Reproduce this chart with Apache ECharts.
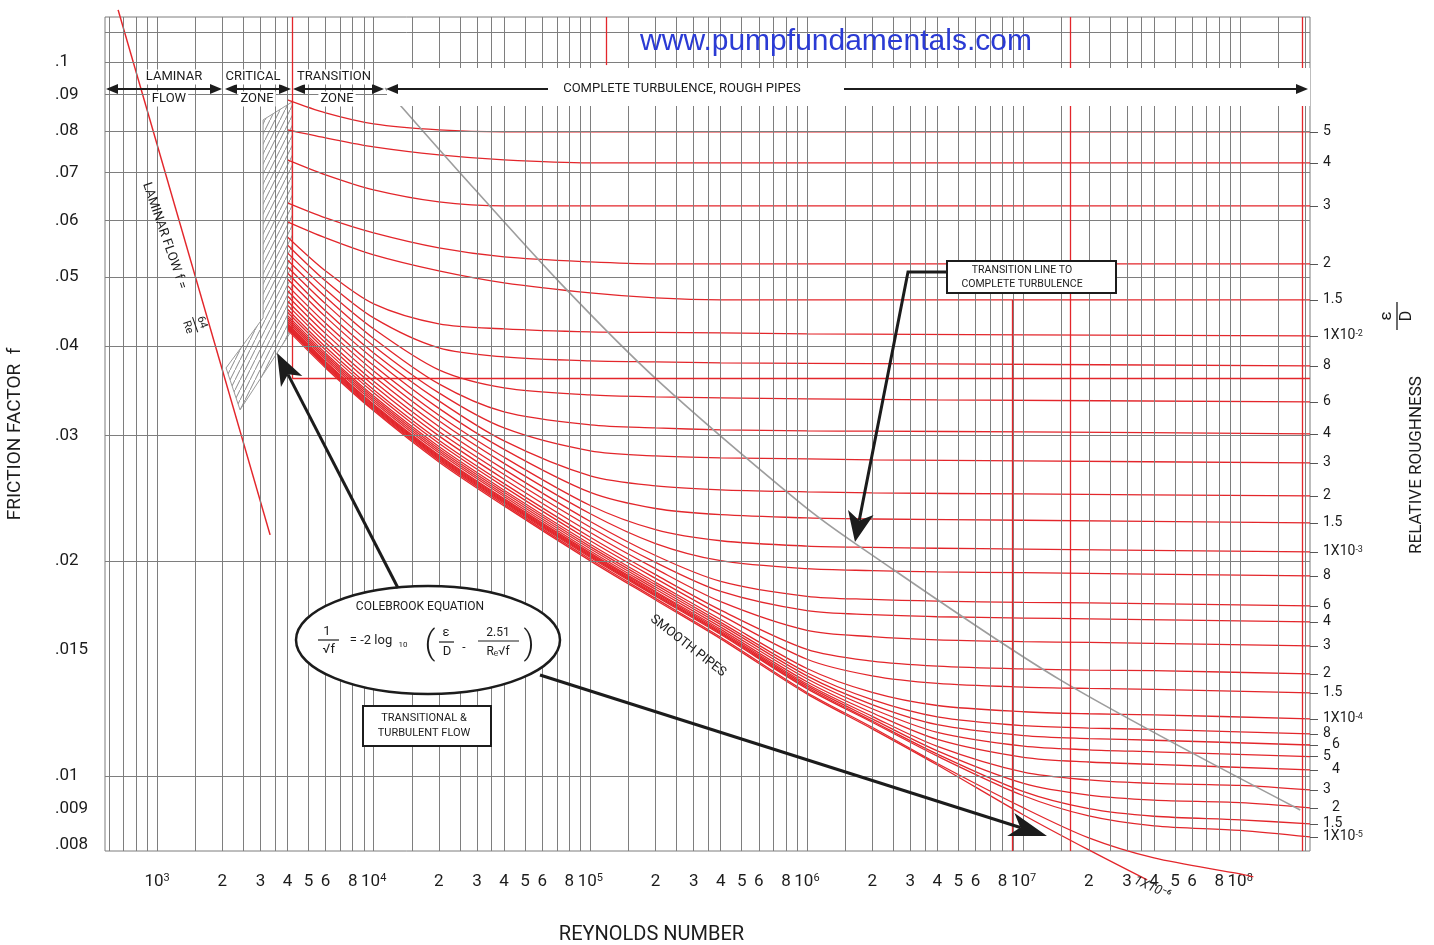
<!DOCTYPE html>
<html>
<head>
<meta charset="utf-8">
<script src="https://cdn.jsdelivr.net/npm/echarts@6.0.0/dist/echarts.min.js"></script>
<style>
html,body{margin:0;padding:0;background:#fff;}
#chart{width:1434px;height:945px;}
</style>
</head>
<body>
<div id="chart"></div>
<script>
// ================= DATA =================
const RE_TICKS = [1e3,2e3,3e3,4e3,5e3,6e3,8e3,1e4,2e4,3e4,4e4,5e4,6e4,8e4,1e5,2e5,3e5,4e5,5e5,6e5,8e5,
                  1e6,2e6,3e6,4e6,5e6,6e6,8e6,1e7,2e7,3e7,4e7,5e7,6e7,8e7,1e8];
const F_TICKS = [0.1,0.09,0.08,0.07,0.06,0.05,0.04,0.03,0.02,0.015,0.01,0.009,0.008];

// relative roughness of each curve and its right-hand label
const ROUGHNESS = [0.05,0.04,0.03,0.02,0.015,0.01,0.008,0.006,0.004,0.003,0.002,0.0015,0.001,0.0008,0.0006,
                   0.0004,0.0003,0.0002,0.00015,0.0001,0.00008,0.00006,0.00005,0.00004,0.00003,0.00002,0.000015,0.00001];
const RR_LABELS = ['5','4','3','2','1.5','1X10^-2','8','6','4','3','2','1.5','1X10^-3','8','6','4','3','2','1.5',
                   '1X10^-4','8','6','5','4','3','2','1.5','1X10^-5'];
const RR_SHIFTED = [21,23,25];

// Reynolds numbers at which the curves were read
const RE_SAMPLES = [4e3,6e3,1e4,2e4,4e4,1e5,2e5,4e5,1e6,2e6,4e6,1e7,2e7,4e7,1e8,2.1e8];
const F_050   = [0.08847,0.08484,0.08188,0.08031,0.0798,null,null,null,null,null,null,null,null,null,null,0.0798];
const F_040   = [0.08031,0.07827,0.07603,0.07409,0.07291,0.07221,null,null,null,null,null,null,null,null,null,0.07221];
const F_030   = [0.07291,0.06947,0.06618,0.06367,0.06286,null,null,null,null,null,null,null,null,null,null,0.06286];
const F_020   = [0.06347,0.06047,0.05762,0.0549,0.05333,0.05247,0.05214,null,null,null,null,null,null,null,null,0.05214];
const F_015   = [0.0597,0.05669,0.05367,0.05097,0.04904,0.04748,0.04672,0.04642,null,null,null,null,null,null,null,0.04642];
const F_010   = [0.05688,0.05097,0.04583,0.04297,0.04228,0.04187,0.0418,0.04174,0.0416,null,null,null,null,null,null,0.04133];
const F_008   = [0.05543,0.04935,0.0438,0.03976,0.03863,0.03813,0.03801,0.03789,0.03783,null,0.03777,null,null,null,null,0.03752];
const F_006   = [0.05402,0.04802,0.04228,0.03704,0.03495,0.03417,0.03395,0.03385,0.03374,null,0.03363,null,null,null,null,0.03341];
const F_004   = [0.05281,0.04687,0.041,0.03541,0.03235,0.03102,0.03072,0.03053,0.03043,0.0304,null,0.03033,null,null,null,0.03014];
const F_003   = [0.05163,0.04583,0.04002,0.0344,0.03072,0.02853,0.02807,0.02789,0.0278,0.02771,null,0.02762,null,null,null,0.02745];
const F_002   = [0.05064,0.0448,0.03913,0.03352,0.02946,0.02632,0.02548,0.02516,0.025,0.02491,null,0.02483,null,null,null,0.02467];
const F_0015  = [0.04967,0.04395,0.03838,0.03272,0.02867,0.02495,0.02369,0.02322,0.02298,0.0229,null,0.02281,null,null,null,0.02262];
const F_001   = [0.04861,0.04306,0.03756,0.032,0.02795,0.02392,0.02213,0.02135,0.02099,0.0209,0.02084,0.02078,null,null,null,0.0206];
const F_0008  = [0.04782,0.04235,0.03692,0.03143,0.0274,0.02329,0.02116,0.02002,0.01951,0.01939,0.01931,0.01926,null,null,null,0.01906];
const F_0006  = [0.04702,0.04164,0.0363,0.03087,0.02688,0.02272,0.02036,0.01873,0.01785,0.01767,0.01757,0.0175,0.01747,null,null,0.01731];
const F_0004  = [0.04627,0.04096,0.0357,0.03036,0.02643,0.0223,0.01991,0.01813,0.01704,0.01682,0.01671,0.01664,0.0166,null,null,0.01644];
const F_0003  = [0.04565,0.04042,0.03522,0.02994,0.02604,0.02193,0.01951,0.01754,0.01599,0.01567,0.01551,0.01542,0.01538,null,null,0.01521];
const F_0002  = [0.04505,0.03988,0.03475,0.02953,0.02567,0.02159,0.01914,0.01707,0.01504,0.01448,0.01425,0.01412,0.01407,0.01404,null,0.0139];
const F_00015 = [0.0446,0.03948,0.03441,0.02923,0.0254,0.02135,0.01891,0.01681,0.01457,0.01381,0.01348,0.01332,0.01326,0.01322,null,0.01307];
const F_0001  = [0.04416,0.03909,0.03405,0.02893,0.02513,0.02111,0.01867,0.01656,0.01414,0.01309,0.01255,0.0123,0.01222,0.01218,null,0.01202];
const F_00008 = [0.04387,0.03883,0.03383,0.02873,0.02496,0.02095,0.01853,0.01641,0.01395,0.01279,0.0121,0.01176,0.01167,0.01162,null,0.01145];
const F_00006 = [0.04359,0.03858,0.03361,0.02854,0.02479,0.02081,0.01839,0.01629,0.01381,0.01259,0.0118,0.01139,0.01128,0.01122,null,0.01105];
const F_00005 = [0.0433,0.03833,0.03339,0.02835,0.02463,0.02066,0.01826,0.01616,0.01368,0.01242,0.01151,0.01101,0.01088,0.01081,null,0.01064];
const F_00004 = [0.04302,0.03807,0.03316,0.02816,0.02446,0.02053,0.01813,0.01604,0.01355,0.01226,0.01125,0.01062,0.01046,0.01038,null,0.0102];
const F_00003 = [0.04287,0.03795,0.03305,0.02806,0.02437,0.02045,0.01806,0.01596,0.01345,0.01212,0.011,0.01012,0.009872,0.009761,0.009701,0.009559];
const F_00002 = [0.04273,0.03783,0.03294,0.02797,0.02428,0.02037,0.01798,0.01589,0.01338,0.01202,0.01084,0.009761,0.0094,0.009249,0.009175,0.00902];
const F_000015= [0.04259,0.03771,0.03283,0.02788,0.0242,0.0203,0.01792,0.01583,0.01331,0.01194,0.01073,0.009505,0.008999,0.008781,0.00868,0.008566];
const F_00001 = [0.04246,0.03758,0.03273,0.02779,0.02412,0.02023,0.01786,0.01578,0.01325,0.01189,0.01066,0.009381,0.00879,0.008514,0.008391,0.008214];
const F_ROUGH = [F_050,F_040,F_030,F_020,F_015,F_010,F_008,F_006,F_004,F_003,F_002,F_0015,F_001,F_0008,F_0006,
                 F_0004,F_0003,F_0002,F_00015,F_0001,F_00008,F_00006,F_00005,F_00004,F_00003,F_00002,F_000015,F_00001];

// epsilon/D = 1e-6 curve (runs below the frame)
const RE_1E6 = [4e3,6e3,1e4,2e4,4e4,1e5,2e5,4e5,1e6,2e6,4e6,1e7,2e7,4e7,1e8,1.15e8];
const F_1E6  = [0.04235,0.03746,0.03259,0.02767,0.02401,0.02011,0.01773,0.01564,0.01309,0.0117,0.01041,0.00902,0.008188,0.007676,0.00729,0.00722];
// smooth pipes
const RE_SMOOTH = [4e3,6e3,1e4,2e4,4e4,1e5,2e5,4e5,1e6,2e6,4e6,1e7,2e7,3.72e7];
const F_SMOOTH  = [0.04214,0.03728,0.03246,0.02753,0.02389,0.02001,0.01764,0.01556,0.01303,0.01164,0.01036,0.008818,0.007877,0.007151];
// laminar flow f = 64/Re (as drawn)
const RE_LAMINAR = [661,3325];
const F_LAMINAR  = [0.1183,0.02176];
// transition line to complete turbulence
const RE_TRANS = [11290,25060,72550,203400,930200,1.705e6,1.476e7,1.893e8];
const F_TRANS  = [0.09196,0.06991,0.04904,0.03587,0.02412,0.02107,0.01363,0.008962];
// critical zone (hatched)
const RE_CRIT = [3086,4201,4201,2416,2082,3086];
const F_CRIT  = [0.08294,0.0879,0.04214,0.03256,0.03728,0.0438];
// red reference lines [Re, f from, f to] and [Re from, Re to, f]
const RED_V = [[4201,0.1156,0.0361],[1.183e5,0.1156,0.099],[8.86e6,0.04642,0.00785],[1.641e7,0.1156,0.00785],[1.933e8,0.1156,0.00785]];
const RED_H = [[4201,2.1e8,0.0361]];
// background grid
const GRID_RE_MANTISSA = [1,1.5,2,2.5,3,3.5,4,5,6,7,8,9];
const GRID_DECADES = [2,3,4,5,6,7,8];
const GRID_F = [0.008,0.0085,0.009,0.0095,0.01,0.011,0.012,0.013,0.014,0.015,0.016,0.017,0.018,0.019,0.02,
                0.022,0.024,0.026,0.028,0.03,0.032,0.034,0.036,0.038,0.04,0.042,0.044,0.046,0.048,0.05,
                0.052,0.054,0.056,0.058,0.06,0.062,0.064,0.066,0.068,0.07,0.072,0.074,0.076,0.078,0.08,0.085,
                0.1,0.105,0.11];

// ================= STYLE / LAYOUT =================
const X_MIN = 575, X_MAX = 2.1e8, F_MIN = 0.00785, F_MAX = 0.1156;
const RED = '#e3262b', GRID_GRAY = '#7e7e7e', INK = '#1c1c1c';
const FONT = 'Roboto, "Liberation Sans", Arial, sans-serif';

const chart = echarts.init(document.getElementById('chart'), null, {renderer: 'canvas'});

function pairs(xs, ys){ return xs.map((x,i)=>[x, ys[i]]).filter(p=>p[1]!=null); }

const gridRe = [];
GRID_DECADES.forEach(d => GRID_RE_MANTISSA.forEach(m => {
  const v = m*Math.pow(10,d);
  if (v > X_MIN*1.01 && v < X_MAX*0.99) gridRe.push(v);
}));
const ASYM = F_ROUGH.map(a => a[a.length-1]);
// trailing placeholder so the axis end-label rule never drops a real label
const RR_VALUES = ASYM.concat([F_MIN*1.002]);

function hatchCanvas(){
  const c = document.createElement('canvas'); c.width = 5; c.height = 10;
  const g = c.getContext('2d'); g.strokeStyle = '#8a8a8a'; g.lineWidth = 1;
  g.beginPath(); g.moveTo(0,10); g.lineTo(5,0); g.stroke();
  return c;
}
const HATCH = hatchCanvas();

function fmtRe(v){
  const e = Math.floor(Math.log10(v)+1e-9);
  const m = Math.round(v/Math.pow(10,e));
  return m === 1 ? '{p|10}{s|' + e + '}' : '{p|' + m + '}';
}
function fmtRR(v){
  if (v < ASYM[ASYM.length-1]*0.98) return '';
  let best = 0, bd = Infinity;
  ASYM.forEach((a,i)=>{ const d = Math.abs(Math.log(a)-Math.log(v)); if (d < bd){ bd = d; best = i; } });
  const t = RR_LABELS[best];
  if (t.indexOf('^') >= 0){ const p = t.split('^'); return '{n|' + p[0] + '}{s|' + p[1] + '}'; }
  return RR_SHIFTED.indexOf(best) >= 0 ? '{sh|' + t + '}' : '{n|' + t + '}';
}

const CURVE = {smooth:0.3, showSymbol:false, silent:true, z:4, lineStyle:{color:RED, width:1.3}};
const series = [];
series.push({
  type:'line', data:[[1e4,0.05]], showSymbol:false, lineStyle:{width:0}, silent:true, z:1,
  markLine:{silent:true, symbol:['none','none'], label:{show:false}, animation:false, emphasis:{disabled:true},
    lineStyle:{color:GRID_GRAY, width:1, type:'solid'},
    data:[...gridRe.map(v=>({xAxis:v})), ...GRID_F.map(v=>({yAxis:v}))]}
});
series.push({
  type:'custom', silent:true, z:2, clip:false, data:[[3000,0.05]],
  renderItem:(params, api)=>({
    type:'polygon',
    shape:{points: RE_CRIT.map((r,i)=>api.coord([r, F_CRIT[i]]))},
    style:{fill:{image:HATCH, repeat:'repeat'}, stroke:'#9a9a9a', lineWidth:1}
  })
});
series.push({
  type:'line', data:[[1e4,0.05]], showSymbol:false, lineStyle:{width:0}, silent:true, z:3,
  markLine:{silent:true, symbol:['none','none'], label:{show:false}, animation:false, emphasis:{disabled:true},
    lineStyle:{color:RED, width:1.3, type:'solid'},
    data:[...RED_V.map(s=>[{coord:[s[0],s[1]]},{coord:[s[0],s[2]]}]),
          ...RED_H.map(s=>[{coord:[s[0],s[2]]},{coord:[s[1],s[2]]}])]}
});
F_ROUGH.forEach((arr,i)=>{
  series.push(Object.assign({type:'line', name:'e/D '+ROUGHNESS[i], data:pairs(RE_SAMPLES, arr)}, CURVE));
});
series.push(Object.assign({type:'line', name:'e/D 1e-6', data:pairs(RE_1E6, F_1E6)}, CURVE, {clip:false}));
series.push(Object.assign({type:'line', name:'smooth pipes', data:pairs(RE_SMOOTH, F_SMOOTH)}, CURVE, {clip:false}));
series.push({type:'line', name:'laminar', data:pairs(RE_LAMINAR, F_LAMINAR), clip:false,
  showSymbol:false, silent:true, z:4, lineStyle:{color:RED, width:1.5}});
series.push({type:'line', name:'transition', data:pairs(RE_TRANS, F_TRANS), smooth:0.3, clip:false,
  showSymbol:false, silent:true, z:4, lineStyle:{color:'#9d9d9d', width:1.6}});

// ================= ANNOTATIONS =================
function T(x,y,text,size,style,el){
  return Object.assign({type:'text', x:x, y:y, z:130, silent:true,
    style:Object.assign({text:text, fill:INK, font:size+'px '+FONT, align:'center', verticalAlign:'middle'}, style||{})}, el||{});
}
function arrow(pts, L, W, N, lw){
  const n = pts.length, tx = pts[n-1][0], ty = pts[n-1][1], fx = pts[n-2][0], fy = pts[n-2][1];
  const dx = tx-fx, dy = ty-fy, len = Math.hypot(dx,dy), ux = dx/len, uy = dy/len, nx = -uy, ny = ux;
  const bx = tx-ux*L, by = ty-uy*L, kx = tx-ux*(L-N), ky = ty-uy*(L-N);
  const shaft = pts.slice(0,n-1).concat([[kx,ky]]);
  return [
    {type:'polyline', z:131, silent:true, shape:{points:shaft}, style:{stroke:INK, lineWidth:lw, fill:null}},
    {type:'polygon', z:131, silent:true, shape:{points:[[tx,ty],[bx+nx*W,by+ny*W],[kx,ky],[bx-nx*W,by-ny*W]]}, style:{fill:INK}}
  ];
}
const G = [];
G.push({type:'rect', z:110, silent:true, shape:{x:387,y:68,width:923,height:38}, style:{fill:'#fff'}});
const HY = 89;
[[106,222],[225,291],[293,384],[386,1308]].forEach(([a,b])=>{
  G.push({type:'line', z:112, silent:true, shape:{x1:a+6,y1:HY,x2:b-6,y2:HY}, style:{stroke:INK,lineWidth:2}});
  G.push({type:'polygon', z:112, silent:true, shape:{points:[[a,HY],[a+12,HY-5],[a+12,HY+5]]}, style:{fill:INK}});
  G.push({type:'polygon', z:112, silent:true, shape:{points:[[b,HY],[b-12,HY-5],[b-12,HY+5]]}, style:{fill:INK}});
});
G.push({type:'rect', z:113, silent:true, shape:{x:548,y:80,width:296,height:18}, style:{fill:'#fff'}});
G.push(T(682,89,'COMPLETE TURBULENCE, ROUGH PIPES',13));
const BG = {backgroundColor:'#fff', padding:[1,2]};
G.push(T(174,77,'LAMINAR',13,BG), T(169,99,'FLOW',13,BG));
G.push(T(253,77,'CRITICAL',13,BG), T(257,99,'ZONE',13,BG));
G.push(T(334,77,'TRANSITION',13,BG), T(337,99,'ZONE',13,BG));
G.push(T(836,42,'www.pumpfundamentals.com',30,{fill:'#2b3bd4', font:'30px "Liberation Sans", Arial, sans-serif'}));

// Colebrook ellipse
G.push({type:'ellipse', z:125, silent:true, shape:{cx:428,cy:640,rx:132,ry:54}, style:{fill:'#fff', stroke:INK, lineWidth:2.5}});
G.push(T(420,607,'COLEBROOK EQUATION',12));
G.push(T(327,632,'1',13), {type:'line', z:130, silent:true, shape:{x1:318,y1:640,x2:339,y2:640}, style:{stroke:INK,lineWidth:1.2}}, T(329,650,'√f',13));
G.push(T(371,641,'= -2 log',13), T(403,645,'10',8));
G.push(T(430,645,'(',34,{font:'300 34px '+FONT}), T(529,645,')',34,{font:'300 34px '+FONT}));
G.push(T(446,633,'ε',13), {type:'line', z:130, silent:true, shape:{x1:439,y1:642,x2:454,y2:642}, style:{stroke:INK,lineWidth:1.2}}, T(447,652,'D',13));
G.push(T(464,648,'-',12));
G.push(T(498,633,'2.51',12), {type:'line', z:130, silent:true, shape:{x1:478,y1:641,x2:519,y2:641}, style:{stroke:INK,lineWidth:1.2}}, T(498,652,'Rₑ√f',12));
// transitional box
G.push({type:'rect', z:125, silent:true, shape:{x:363,y:706,width:128,height:40}, style:{fill:'#fff', stroke:INK, lineWidth:2}});
G.push(T(424,718,'TRANSITIONAL &',11), T(424,733,'TURBULENT FLOW',11));
// transition line box
G.push({type:'rect', z:125, silent:true, shape:{x:947,y:261,width:169,height:32}, style:{fill:'#fff', stroke:INK, lineWidth:2}});
G.push(T(1022,270,'TRANSITION LINE TO',10.5), T(1022,284,'COMPLETE TURBULENCE',10.5));
// arrows
G.push(...arrow([[398,588],[277,353]], 32, 12, 8, 3));
G.push(...arrow([[540,675],[1047,836]], 38, 12, 10, 3));
G.push(...arrow([[947,272],[908,272],[855,542]], 30, 13, 8, 3));
// rotated labels
G.push(T(688,646,'SMOOTH PIPES',13,null,{rotation:-0.66}));
G.push({type:'group', x:146, y:183, rotation:-1.237, silent:true, children:[
  {type:'text', z:130, x:0, y:0, style:{text:'LAMINAR FLOW f =', fill:INK, font:'13px '+FONT, align:'left', verticalAlign:'middle'}},
  {type:'text', z:130, x:150, y:-7, style:{text:'64', fill:INK, font:'11px '+FONT, align:'center', verticalAlign:'middle'}},
  {type:'line', z:130, shape:{x1:142,y1:0,x2:158,y2:0}, style:{stroke:INK, lineWidth:1}},
  {type:'text', z:130, x:150, y:8, style:{text:'Re', fill:INK, font:'11px '+FONT, align:'center', verticalAlign:'middle'}}
]});
G.push(T(1152,888,'1X10⁻⁶',13,{font:'italic 13px '+FONT},{rotation:-0.42}));
// epsilon / D
G.push({type:'group', x:1397, y:316, rotation:Math.PI/2, silent:true, children:[
  {type:'text', z:130, x:0, y:-10, style:{text:'ε', fill:INK, font:'17px '+FONT, align:'center', verticalAlign:'middle'}},
  {type:'line', z:130, shape:{x1:-14,y1:0,x2:14,y2:0}, style:{stroke:INK, lineWidth:1.3}},
  {type:'text', z:130, x:0, y:10, style:{text:'D', fill:INK, font:'16px '+FONT, align:'center', verticalAlign:'middle'}}
]});

const option = {
  animation:false,
  backgroundColor:'#fff',
  textStyle:{fontFamily:FONT},
  grid:{left:105, right:124, top:17, bottom:94, show:true, borderColor:'#7d7d7d', borderWidth:1, backgroundColor:'transparent', outerBoundsMode:'none'},
  xAxis:{
    type:'log', logBase:10, min:X_MIN, max:X_MAX,
    axisLine:{show:false}, axisTick:{show:false}, splitLine:{show:false}, minorTick:{show:false}, minorSplitLine:{show:false},
    axisLabel:{customValues:RE_TICKS, formatter:fmtRe, margin:22, hideOverlap:false, showMinLabel:true, showMaxLabel:true, color:INK,
      rich:{p:{fontSize:17, color:INK, fontFamily:FONT}, s:{fontSize:11, color:INK, fontFamily:FONT, verticalAlign:'top'}}},
    name:'REYNOLDS NUMBER', nameLocation:'middle', nameGap:74,
    nameTextStyle:{fontSize:20, color:INK, fontFamily:FONT, padding:[0,112,0,0]}
  },
  yAxis:[{
    type:'log', logBase:10, min:F_MIN, max:F_MAX, position:'left',
    axisLine:{show:false}, axisTick:{show:false}, splitLine:{show:false}, minorTick:{show:false},
    axisLabel:{customValues:F_TICKS, formatter:v=>String(v).replace(/^0/,''), align:'left', margin:50, hideOverlap:false,
      showMinLabel:true, showMaxLabel:true, fontSize:17, color:INK, fontFamily:FONT},
    name:'FRICTION FACTOR  f', nameLocation:'middle', nameRotate:90, nameGap:80,
    nameTextStyle:{fontSize:19, color:INK, fontFamily:FONT}
  },{
    type:'log', logBase:10, min:F_MIN, max:F_MAX, position:'right',
    axisLine:{show:false}, splitLine:{show:false}, minorTick:{show:false},
    axisTick:{show:true, customValues:ASYM, length:8, lineStyle:{color:'#555', width:1}},
    axisLabel:{customValues:RR_VALUES, formatter:fmtRR, margin:13, hideOverlap:false, showMinLabel:true, showMaxLabel:false, color:INK,
      rich:{n:{fontSize:14, color:INK, fontFamily:FONT},
            sh:{fontSize:14, color:INK, fontFamily:FONT, padding:[0,0,0,9]},
            s:{fontSize:9, color:INK, fontFamily:FONT, verticalAlign:'top'}}},
    name:'RELATIVE ROUGHNESS', nameLocation:'middle', nameRotate:90, nameGap:98,
    nameTextStyle:{fontSize:17, color:INK, fontFamily:FONT, padding:[0,62,0,0]}
  }],
  series:series,
  graphic:{elements:G}
};
chart.setOption(option);
</script>
</body>
</html>
